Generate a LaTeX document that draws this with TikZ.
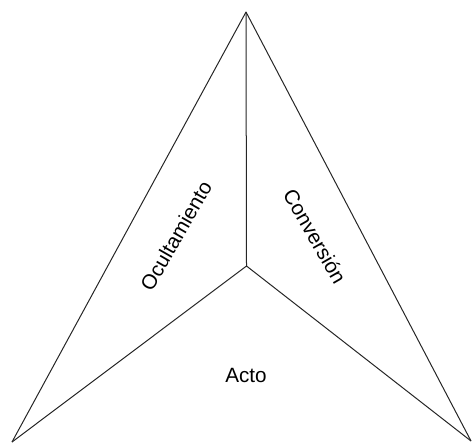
\documentclass[tikz,border=0pt]{standalone}
\usepackage{fontspec}
\setmainfont{Liberation Sans}
\begin{document}
\begin{tikzpicture}[x=0.75pt,y=-0.75pt,
  edge/.style={draw=black!85, line width=0.75pt, line join=round},
  lbl/.style={font=\fontsize{15.5pt}{18pt}\selectfont, inner sep=0pt}]
\useasboundingbox (0,0) rectangle (473,443);
\coordinate (top) at (246,12);
\coordinate (bl) at (12,442);
\coordinate (br) at (471,441);
\coordinate (c) at (246.5,266);
\draw[edge] (bl) -- (top) -- (br);
\draw[edge] (top) -- (c);
\draw[edge] (bl) -- (c) -- (br);
\node[lbl, rotate=60] (oc) at (176,236) {Ocultamiento};
\node[lbl, rotate=-60] (cv) at (315,236) {Conversión};
\node[lbl] (acto) at (246,375) {Acto};
\end{tikzpicture}
\end{document}
